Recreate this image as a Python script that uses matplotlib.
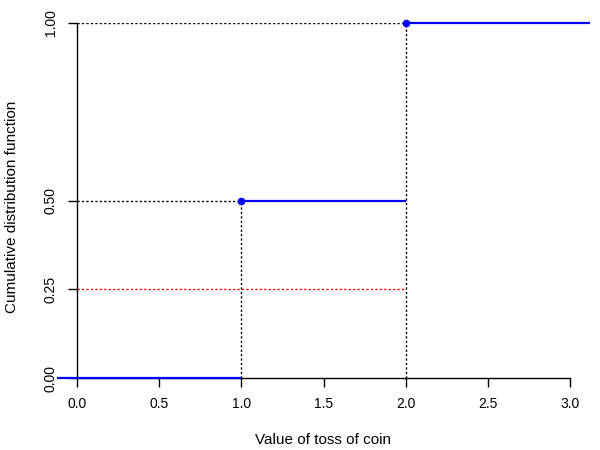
import matplotlib
matplotlib.use("Agg")
import matplotlib.pyplot as plt

plt.rcParams['font.family'] = ['Liberation Sans', 'DejaVu Sans']

# data: empirical cdf of coin toss values
jump_x = [1.0, 2.0]
jump_y = [0.5, 1.0]
x_left, x_right = -0.12, 3.12
x_ticks = [0.0, 0.5, 1.0, 1.5, 2.0, 2.5, 3.0]
x_labels = ["0.0", "0.5", "1.0", "1.5", "2.0", "2.5", "3.0"]
y_ticks = [0.0, 0.25, 0.5, 1.0]
y_labels = ["0.00", "0.25", "0.50", "1.00"]
ref_level = 0.25

fig = plt.figure(figsize=(6, 4.5), dpi=100)
ax = fig.add_axes([57 / 600, 72 / 450, 533 / 600, 355 / 450])

# step function
xs = [x_left] + jump_x + [x_right]
ys = [0.0] + jump_y
for i in range(len(ys)):
    ax.plot([xs[i], xs[i + 1]], [ys[i], ys[i]], color='blue', lw=1.6,
            solid_capstyle='butt', clip_on=False, zorder=4)
ax.plot(jump_x, jump_y, 'o', color='blue', ms=4.5, clip_on=False, zorder=5)

# dotted guides
dot = (0, (1.6, 1.6))
for xj, yj in zip(jump_x, jump_y):
    ax.plot([0, xj], [yj, yj], color='black', ls=dot, lw=1.0, zorder=2)
    ax.plot([xj, xj], [0, yj], color='black', ls=dot, lw=1.0, zorder=2)
ax.plot([0, jump_x[-1]], [ref_level, ref_level], color='#ff0000', ls=dot,
        lw=1.0, zorder=2)

ax.set_xlim(x_left, x_right)
ax.set_ylim(0, 1)

for s in ['top', 'right']:
    ax.spines[s].set_visible(False)
ax.spines['left'].set_position(('data', 0))
ax.spines['bottom'].set_position(('data', 0))
ax.spines['left'].set_bounds(0, 1)
ax.spines['bottom'].set_bounds(0, 3)
for s in ['left', 'bottom']:
    ax.spines[s].set_linewidth(1.0)
    ax.spines[s].set_zorder(3)

ax.set_xticks(x_ticks)
ax.set_xticklabels(x_labels)
ax.set_yticks(y_ticks)
ax.set_yticklabels(y_labels, rotation=90, va='center')
ax.tick_params(direction='out', length=6.5, width=1.0, labelsize=10, pad=7)

fig.text(323 / 600, 1 - 440 / 450, "Value of toss of coin", ha='center', va='center',
         fontsize=11)
fig.text(12 / 600, 1 - 207 / 450, "Cumulative distribution function", ha='center',
         va='center', rotation=90, fontsize=11)

fig.savefig("out.png", dpi=100)
